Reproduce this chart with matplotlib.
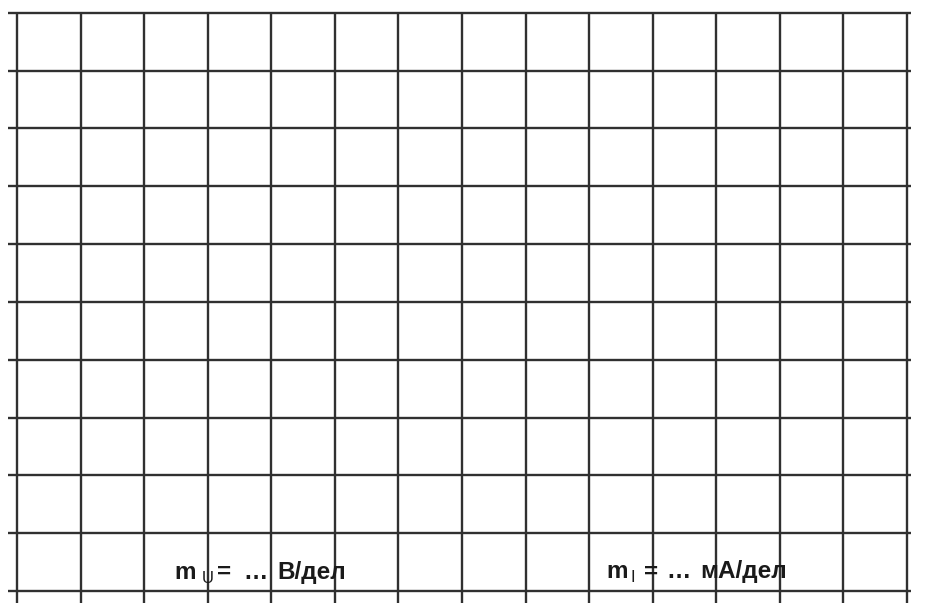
import matplotlib
matplotlib.use("Agg")
import matplotlib.pyplot as plt
import numpy as np

# Grid of the millimetre-style sheet, in divisions
n_cols = 14          # number of horizontal divisions
n_rows = 10          # number of vertical divisions
x_lines = list(range(n_cols + 1))
y_lines = list(range(n_rows + 1))

# Scale labels, split into pieces
label_pieces = [["m", "U", "=", "…", "В/дел"],
                ["m", "I", "=", "…", "мА/дел"]]
label_x = [2.474, 9.276]
label_y = [0.207, 0.22]

plt.rcParams['font.family'] = ['Liberation Sans', 'DejaVu Sans']

W, H = 929, 616
fig = plt.figure(figsize=(W / 100, H / 100), dpi=100)
left, right, top, bottom = 17, 907, 12.7, 591
ax = fig.add_axes([left / W, (H - bottom) / H, (right - left) / W, (bottom - top) / H])
ax.set_xlim(0, n_cols)
ax.set_ylim(0, n_rows)
ax.axis('off')

col = '#303030'
lw = 1.7
for y in y_lines:
    ax.plot([-0.14, n_cols + 0.06], [y, y], color=col, lw=lw, clip_on=False,
            solid_capstyle='butt')
for x in x_lines:
    ax.plot([x, x], [-0.2, n_rows], color=col, lw=lw, clip_on=False,
            solid_capstyle='butt')

# pixel offsets of each piece from the start of the label
offsets = [[0, 27, 43, 69, 103],
           [0, 24, 37, 60, 94]]
tc = '#1a1a1a'
for pieces, offs, x, y in zip(label_pieces, offsets, label_x, label_y):
    for i, (p, o) in enumerate(zip(pieces, offs)):
        if i == 1:
            ax.annotate(p, xy=(x, y), xytext=(o, -4), textcoords='offset pixels',
                        fontsize=12, color=tc, ha='left', va='baseline',
                        annotation_clip=False)
        else:
            ax.annotate(p, xy=(x, y), xytext=(o, 0), textcoords='offset pixels',
                        fontsize=17.5, fontweight='bold', color=tc, ha='left',
                        va='baseline', annotation_clip=False)

fig.savefig("out.png", dpi=100, facecolor='white')
